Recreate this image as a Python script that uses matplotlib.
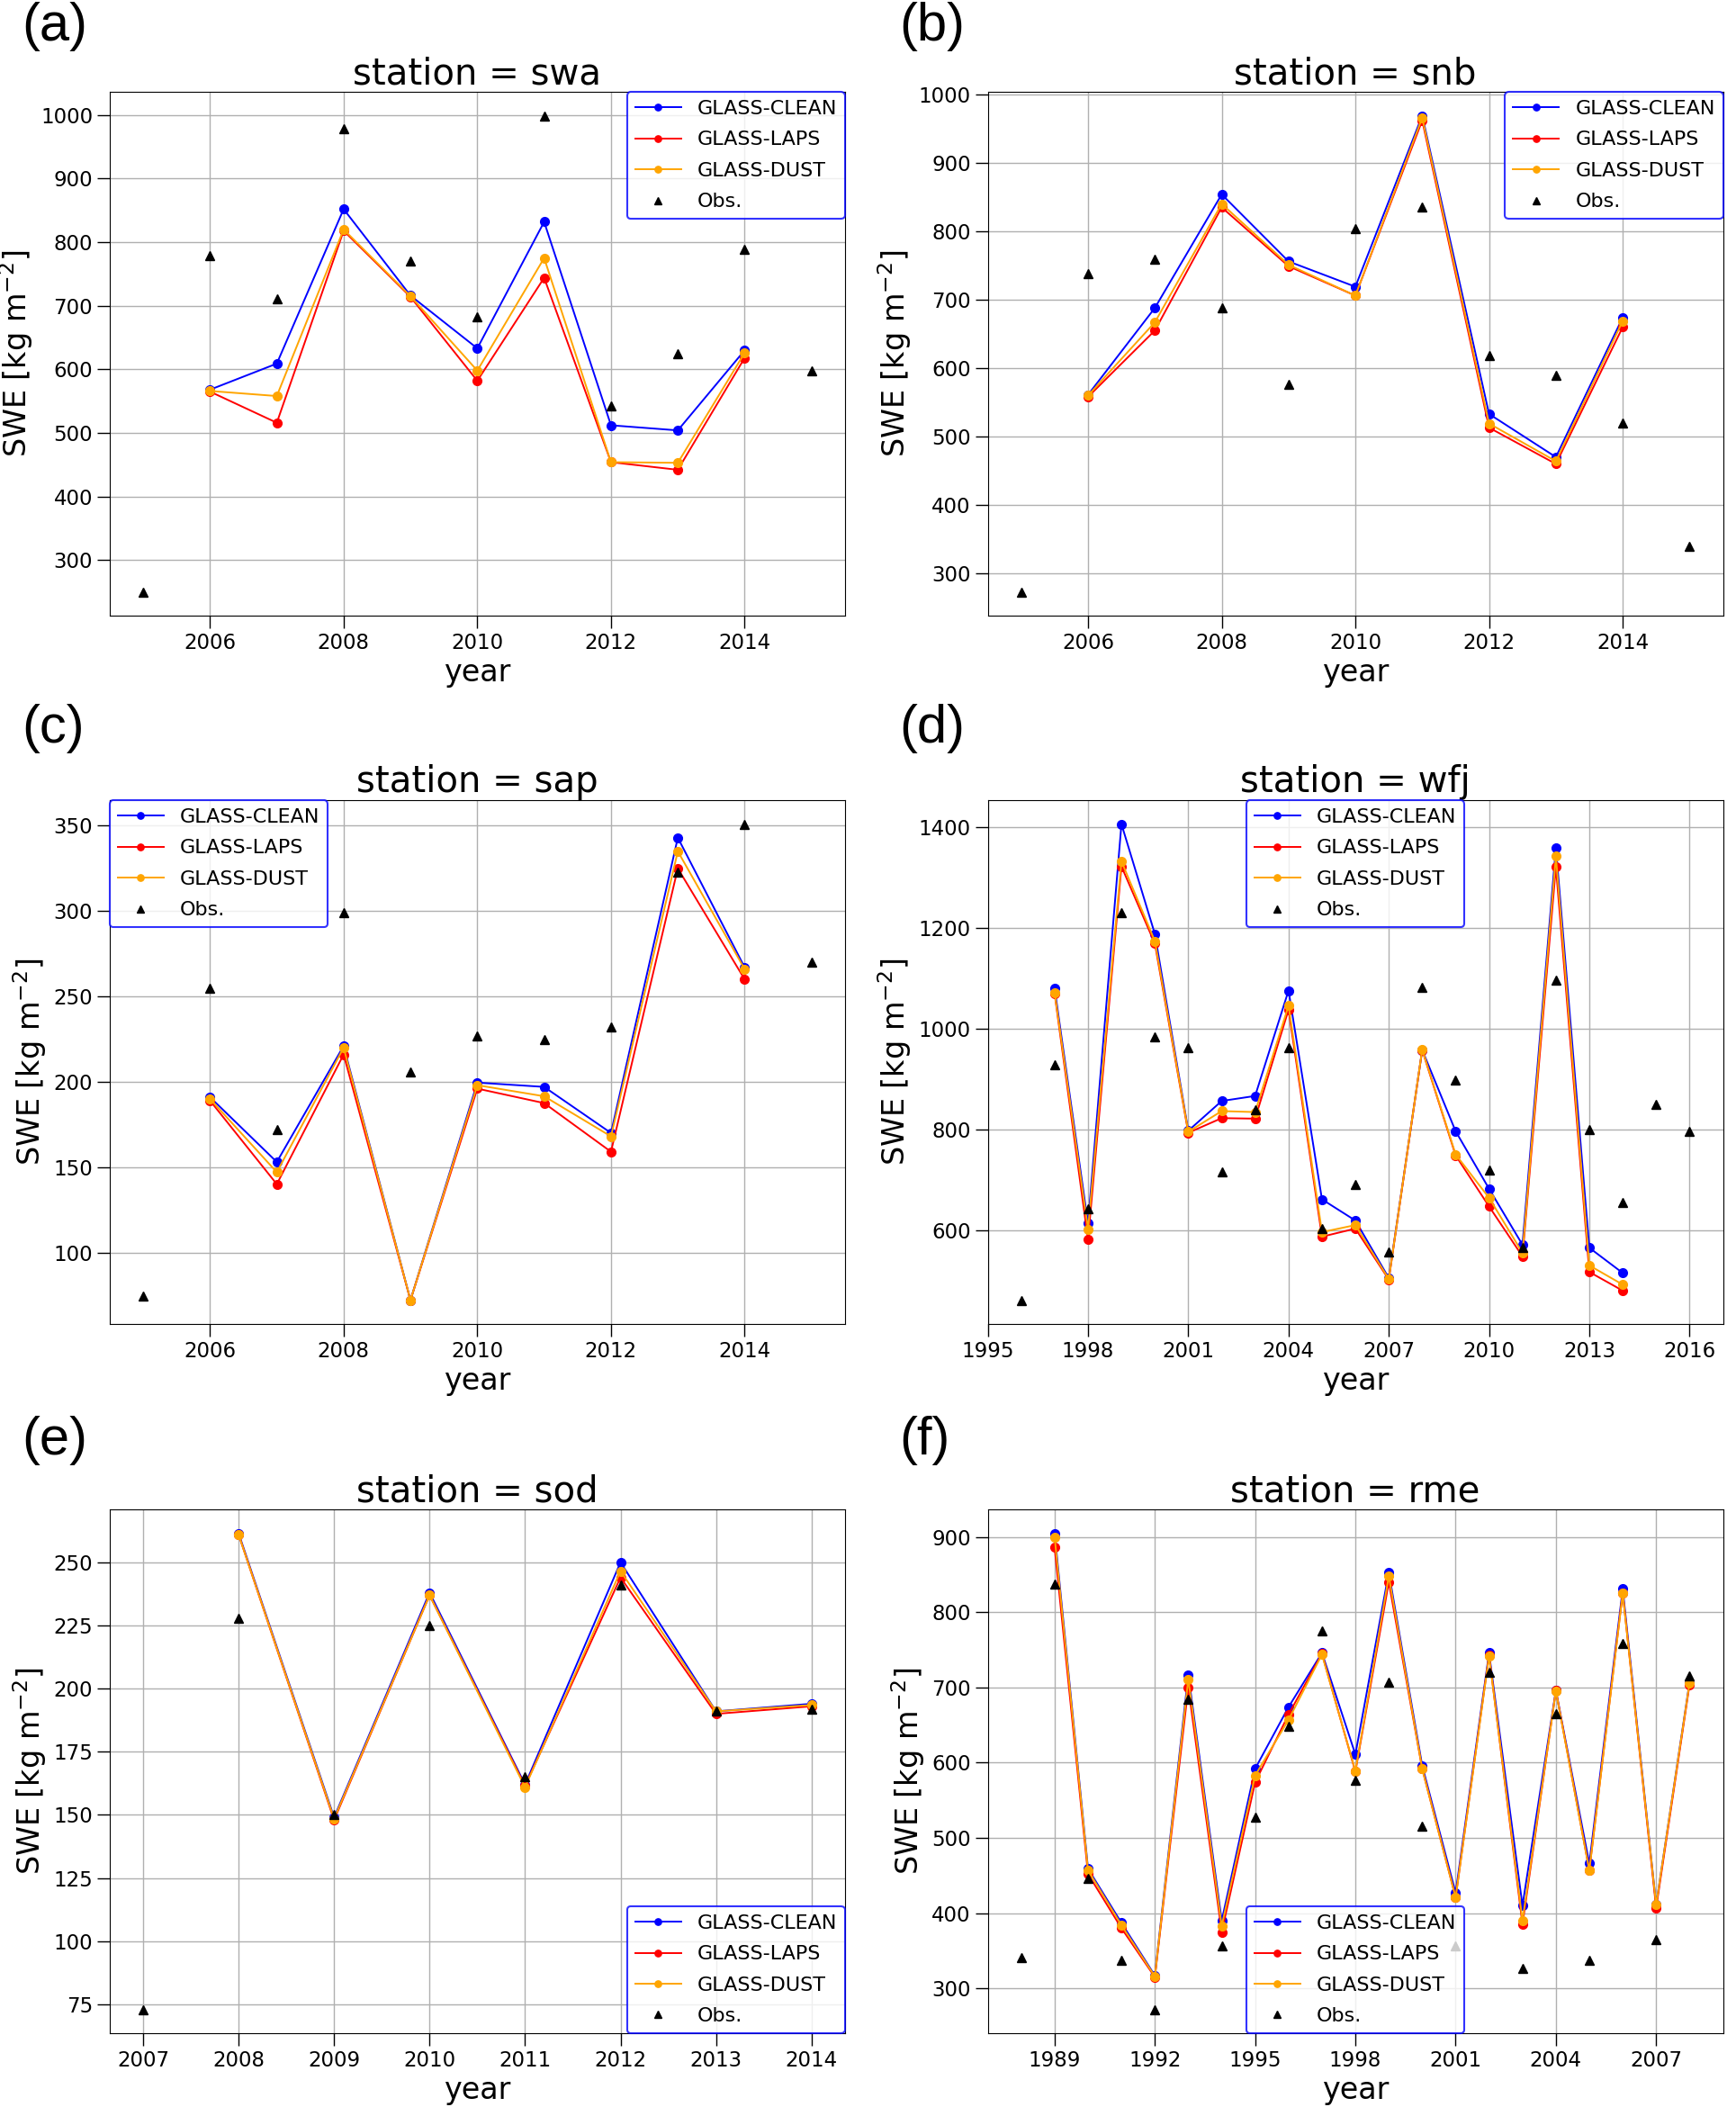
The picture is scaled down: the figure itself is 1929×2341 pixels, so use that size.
import matplotlib
matplotlib.use("Agg")
import matplotlib.pyplot as plt
from matplotlib.ticker import MultipleLocator

# ---- station swa ----
swa_years = [2006, 2007, 2008, 2009, 2010, 2011, 2012, 2013, 2014]
swa_clean = [568, 609, 852, 716, 633, 832, 512, 504, 630]
swa_laps = [565, 516, 818, 714, 582, 744, 454, 442, 618]
swa_dust = [566, 558, 820, 715, 598, 775, 454, 453, 626]
swa_obs_years = [2005, 2006, 2007, 2008, 2009, 2010, 2011, 2012, 2013, 2014, 2015]
swa_obs = [250, 779, 711, 978, 771, 682, 999, 542, 624, 789, 597]

# ---- station snb ----
snb_years = [2006, 2007, 2008, 2009, 2010, 2011, 2012, 2013, 2014]
snb_clean = [561, 688, 854, 756, 719, 969, 533, 470, 674]
snb_laps = [558, 655, 835, 749, 706, 962, 513, 460, 660]
snb_dust = [560, 667, 840, 751, 706, 966, 519, 464, 669]
snb_obs_years = [2005, 2006, 2007, 2008, 2009, 2010, 2011, 2012, 2013, 2014, 2015]
snb_obs = [273, 738, 759, 688, 576, 804, 836, 619, 589, 520, 339]

# ---- station sap ----
sap_years = [2006, 2007, 2008, 2009, 2010, 2011, 2012, 2013, 2014]
sap_clean = [191, 153, 221, 72, 199.5, 197, 170, 343, 267]
sap_laps = [189, 140, 216, 72, 196, 187.5, 159, 325, 260]
sap_dust = [190, 147, 220, 72, 198, 191.5, 168, 335, 266]
sap_obs_years = [2005, 2006, 2007, 2008, 2009, 2010, 2011, 2012, 2013, 2014, 2015]
sap_obs = [74.5, 255, 172, 299, 206, 227, 224.5, 232, 323, 351, 270]

# ---- station wfj ----
wfj_years = [1997, 1998, 1999, 2000, 2001, 2002, 2003, 2004, 2005,
             2006, 2007, 2008, 2009, 2010, 2011, 2012, 2013, 2014]
wfj_clean = [1080, 614, 1406, 1188, 798, 857, 867, 1076, 662,
             620, 506, 958, 797, 683, 572, 1359, 566, 516]
wfj_laps = [1070, 582, 1322, 1169, 794, 823, 822, 1038, 588,
            604, 503, 958, 749, 648, 549, 1321, 518, 481]
wfj_dust = [1072, 603, 1332, 1174, 796, 837, 835, 1046, 597,
            611, 504, 959, 751, 665, 556, 1342, 531, 493]
wfj_obs_years = [1996, 1997, 1998, 1999, 2000, 2001, 2002, 2003, 2004, 2005, 2006,
                 2007, 2008, 2009, 2010, 2011, 2012, 2013, 2014, 2015, 2016]
wfj_obs = [462, 928, 643, 1231, 984, 962, 717, 839, 962, 604, 692,
           557, 1083, 899, 720, 567, 1097, 801, 656, 851, 796]

# ---- station sod ----
sod_years = [2008, 2009, 2010, 2011, 2012, 2013, 2014]
sod_clean = [261.5, 149, 238, 162, 250, 191, 194]
sod_laps = [261, 148, 237, 161.5, 244, 190, 193]
sod_dust = [261, 148.5, 237, 161, 246.5, 191, 193.5]
sod_obs_years = [2007, 2008, 2009, 2010, 2011, 2012, 2013, 2014]
sod_obs = [73, 228, 150, 225, 165, 241, 191, 192]

# ---- station rme ----
rme_years = [1989, 1990, 1991, 1992, 1993, 1994, 1995, 1996, 1997, 1998,
             1999, 2000, 2001, 2002, 2003, 2004, 2005, 2006, 2007, 2008]
rme_clean = [905, 459, 387, 317, 717, 390, 592, 674, 746, 611,
             853, 596, 427, 746, 410, 696, 466, 831, 411, 707]
rme_laps = [886, 452, 380, 315, 700, 375, 574, 664, 745, 588,
            840, 592, 421, 743, 385, 696, 457, 826, 407, 704]
rme_dust = [900, 457, 384, 316, 711, 383, 583, 657, 744, 589,
            848, 592, 421, 742, 390, 695, 457, 825, 411, 706]
rme_obs_years = [1988, 1989, 1990, 1991, 1992, 1993, 1994, 1995, 1996, 1997, 1998,
                 1999, 2000, 2001, 2002, 2003, 2004, 2005, 2006, 2007, 2008]
rme_obs = [341, 838, 446, 337, 272, 684, 357, 528, 648, 775, 577,
           707, 516, 357, 720, 327, 665, 337, 758, 365, 716]

panels = [
    ("(a)", "swa", swa_years, swa_clean, swa_laps, swa_dust, swa_obs_years, swa_obs, 2, 100, "upper right"),
    ("(b)", "snb", snb_years, snb_clean, snb_laps, snb_dust, snb_obs_years, snb_obs, 2, 100, "upper right"),
    ("(c)", "sap", sap_years, sap_clean, sap_laps, sap_dust, sap_obs_years, sap_obs, 2, 50, "upper left"),
    ("(d)", "wfj", wfj_years, wfj_clean, wfj_laps, wfj_dust, wfj_obs_years, wfj_obs, 3, 200, "upper center"),
    ("(e)", "sod", sod_years, sod_clean, sod_laps, sod_dust, sod_obs_years, sod_obs, 1, 25, "lower right"),
    ("(f)", "rme", rme_years, rme_clean, rme_laps, rme_dust, rme_obs_years, rme_obs, 3, 100, "lower center"),
]

fig = plt.figure(figsize=(19.29, 23.41), dpi=100)

col_left = [0.0632, 0.569]
row_bottom = [0.7078, 0.3716, 0.035]
ax_w, ax_h = 0.4235, 0.2486
label_pos = [(0.0125, 0.999), (0.518, 0.999),
             (0.0125, 0.666), (0.518, 0.666),
             (0.0125, 0.328), (0.518, 0.328)]

for i, (tag, name, yrs, clean, laps, dust, oyrs, obs, xstep, ystep, loc) in enumerate(panels):
    ax = fig.add_axes([col_left[i % 2], row_bottom[i // 2], ax_w, ax_h])
    ax.plot(yrs, clean, "-o", color="blue", lw=1.4, ms=7, label="GLASS-CLEAN")
    ax.plot(yrs, laps, "-o", color="red", lw=1.4, ms=7, label="GLASS-LAPS")
    ax.plot(yrs, dust, "-o", color="orange", lw=1.4, ms=7, label="GLASS-DUST")
    ax.plot(oyrs, obs, "^", color="black", ms=7, ls="none", label="Obs.")
    ax.xaxis.set_major_locator(MultipleLocator(xstep))
    ax.yaxis.set_major_locator(MultipleLocator(ystep))
    ax.grid(True, color="#b0b0b0", lw=1)
    ax.tick_params(labelsize=16.5, length=10, width=1)
    ax.set_title(f"station = {name}", fontsize=29)
    ax.set_xlabel("year", fontsize=24)
    ax.set_ylabel("SWE [kg m$^{-2}$]", fontsize=24)
    leg = ax.legend(loc=loc, fontsize=16, borderaxespad=0, handlelength=2.3,
                    labelspacing=0.65, markerscale=0.75)
    leg.get_frame().set_edgecolor("blue")
    leg.get_frame().set_linewidth(1.5)
    fig.text(label_pos[i][0], label_pos[i][1], tag, fontsize=43,
             family="Liberation Sans", ha="left", va="top")

fig.savefig("out.png", dpi=100)
